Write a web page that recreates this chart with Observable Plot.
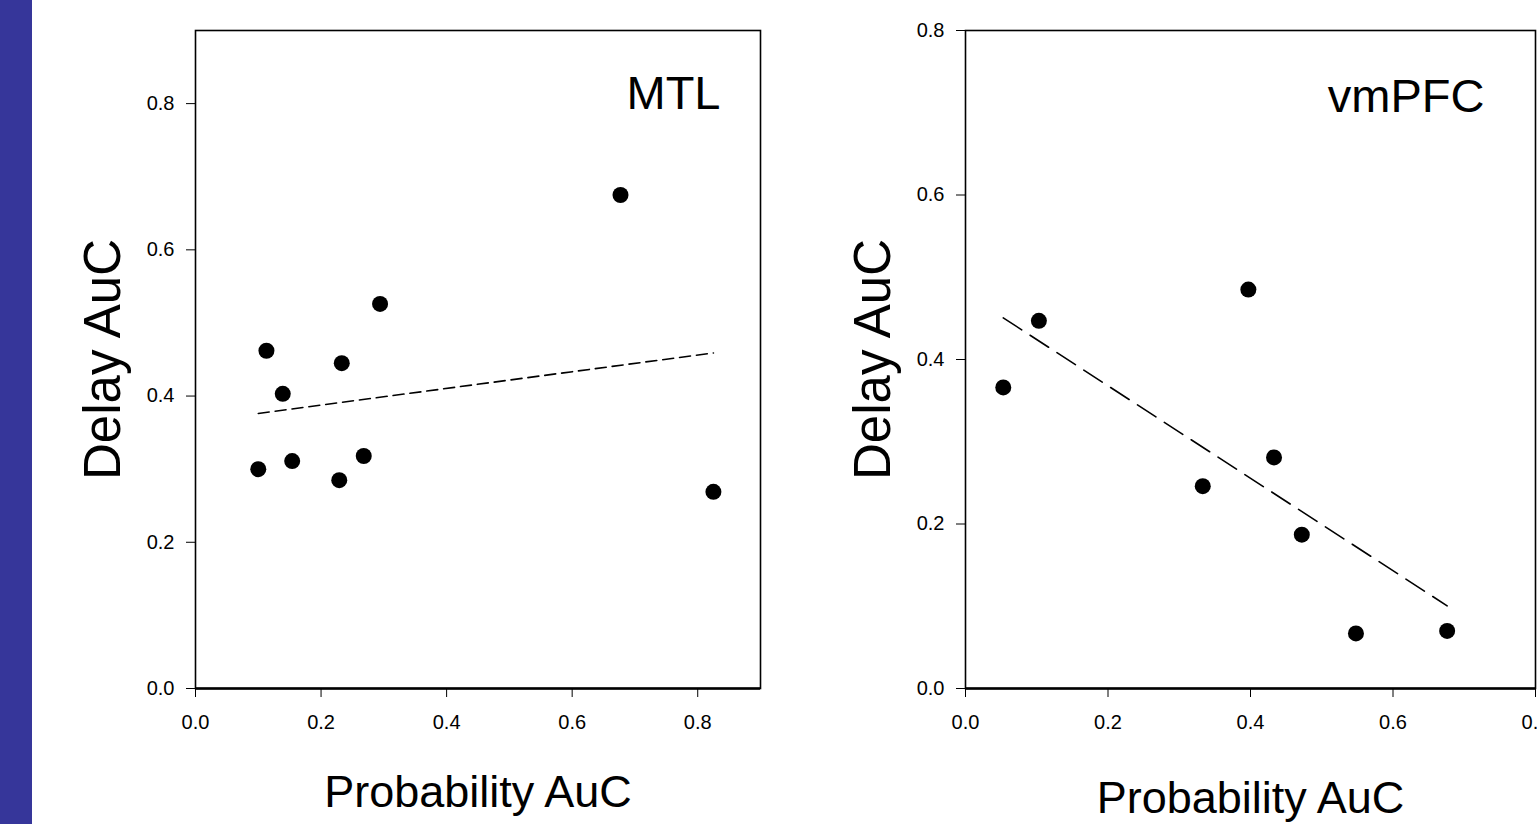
<!DOCTYPE html>
<html>
<head>
<meta charset="utf-8">
<script src="https://cdn.jsdelivr.net/npm/d3@7"></script>
<script src="https://cdn.jsdelivr.net/npm/@observablehq/plot@0.6"></script>
<style>
  html, body { margin: 0; padding: 0; background: #ffffff; overflow: hidden; width: 1537px; height: 824px; }
  #bar { position: absolute; left: 0; top: 0; width: 32px; height: 824px; background: #36369a; }
  #left { position: absolute; left: 40px; top: 0; }
  #right { position: absolute; left: 800px; top: 0; }
  .plot { max-width: none !important; }
</style>
</head>
<body>
<div id="bar"></div>
<div id="left"></div>
<div id="right"></div>
<script>
// MTL panel
const mtlProb  = [0.100, 0.113, 0.139, 0.154, 0.229, 0.233, 0.268, 0.294, 0.677, 0.825];
const mtlDelay = [0.300, 0.462, 0.403, 0.311, 0.285, 0.445, 0.318, 0.526, 0.675, 0.269];
// vmPFC panel
const vmProb  = [0.053, 0.103, 0.333, 0.397, 0.433, 0.472, 0.548, 0.676];
const vmDelay = [0.366, 0.447, 0.246, 0.485, 0.281, 0.187, 0.067, 0.070];

const mtlTicksX = [0, 0.2, 0.4, 0.6, 0.8];
const mtlTicksY = [0, 0.2, 0.4, 0.6, 0.8];
const vmTicksX = [0, 0.2, 0.4, 0.6, 0.8];
const vmTicksY = [0, 0.2, 0.4, 0.6, 0.8];

const panelTitles = ["MTL", "vmPFC"];
const xLabel = "Probability AuC";
const yLabel = "Delay AuC";

const FONT = "'Liberation Sans', Arial, sans-serif";
const fmt = d3.format(".1f");

function panel({xs, ys, xDomain, yDomain, ticksX, ticksY, title, width, marginLeft, marginRight, dash, titleDx, titleDy, xLabelDy}) {
  const data = xs.map((x, i) => ({x, y: ys[i]}));
  return Plot.plot({
    width, height: 824,
    marginLeft, marginRight, marginTop: 30, marginBottom: 136,
    style: {fontFamily: FONT, fontSize: "20px", color: "#000", background: "transparent", overflow: "visible"},
    x: {domain: xDomain, ticks: ticksX, tickFormat: fmt, tickSize: 9, tickPadding: 17, label: null},
    y: {domain: yDomain, ticks: ticksY, tickFormat: fmt, tickSize: 9, tickPadding: 12, label: null},
    marks: [
      Plot.frame({stroke: "#000", strokeWidth: 1.6}),
      Plot.ruleY([0], {stroke: "#000", strokeWidth: 2.6}),
      Plot.linearRegressionY(data, {x: "x", y: "y", ci: 0, stroke: "#000", strokeWidth: 1.6, strokeDasharray: dash}),
      Plot.dot(data, {x: "x", y: "y", r: 8, fill: "#000", stroke: "none"}),
      Plot.text([title], {frameAnchor: "top-right", textAnchor: "end", lineAnchor: "middle", dx: titleDx, dy: titleDy, fontSize: 47, fill: "#000", fontFamily: FONT}),
      Plot.text([yLabel], {frameAnchor: "left", rotate: -90, textAnchor: "middle", lineAnchor: "middle", dx: -92, fontSize: 51, fill: "#000", fontFamily: FONT}),
      Plot.text([xLabel], {frameAnchor: "bottom", textAnchor: "middle", lineAnchor: "middle", dy: xLabelDy, fontSize: 45, fill: "#000", fontFamily: FONT})
    ]
  });
}

document.getElementById("left").appendChild(panel({
  xs: mtlProb, ys: mtlDelay, xDomain: [0, 0.9], yDomain: [0, 0.9],
  ticksX: mtlTicksX, ticksY: mtlTicksY, title: panelTitles[0],
  width: 760, marginLeft: 155, marginRight: 40, dash: "11,6",
  titleDx: -40, titleDy: 63, xLabelDy: 104
}));

document.getElementById("right").appendChild(panel({
  xs: vmProb, ys: vmDelay, xDomain: [0, 0.8], yDomain: [0, 0.8],
  ticksX: vmTicksX, ticksY: vmTicksY, title: panelTitles[1],
  width: 737, marginLeft: 165, marginRight: 2, dash: "22,10",
  titleDx: -51, titleDy: 66, xLabelDy: 110
}));
</script>
</body>
</html>
